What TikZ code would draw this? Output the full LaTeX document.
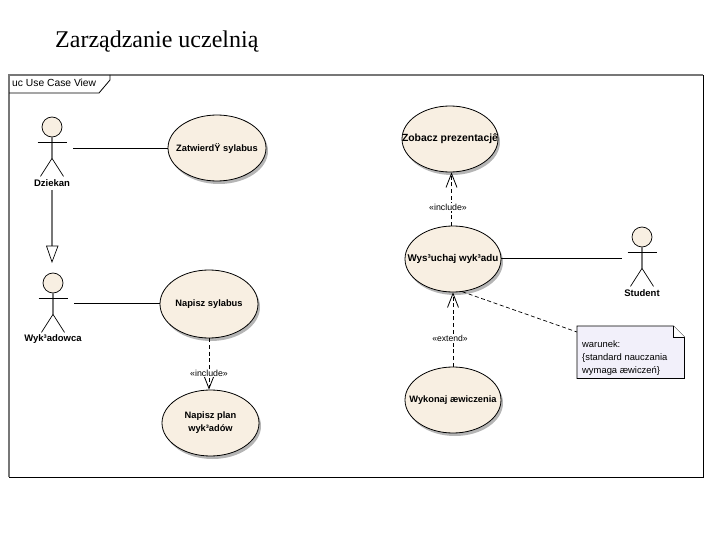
\documentclass[tikz,border=0pt]{standalone}
\usepackage{fontspec}
\setmainfont{Liberation Serif}
\setsansfont{Liberation Sans}
\usetikzlibrary{arrows.meta,shapes.geometric}
\definecolor{ucfill}{HTML}{F8EFE2}
\definecolor{notefill}{HTML}{F2F0FA}
\definecolor{framegray}{HTML}{777777}
\definecolor{shadowgray}{HTML}{B5B5B5}
\tikzset{
  usecase/.style={ellipse,draw=black,line width=0.8pt,fill=ucfill,inner sep=0pt},
  uctext/.style={inner sep=0pt,align=center,font=\sffamily\fontsize{9.3}{13}\selectfont\bfseries},
  ucshadow/.style={fill=shadowgray,draw=none},
  actorlabel/.style={font=\sffamily\fontsize{9.5}{10}\selectfont\bfseries,inner sep=0pt},
  stereo/.style={font=\sffamily\fontsize{8.8}{9}\selectfont,fill=white,inner sep=0.5pt},
  assoc/.style={line width=0.9pt},
  dep/.style={line width=0.8pt,dash pattern=on 4pt off 2.6pt,-{Straight Barb[length=14pt,width=11pt,line width=0.8pt]}},
  notelink/.style={line width=0.7pt,dash pattern=on 4pt off 2.6pt},
  limb/.style={line width=0.7pt},
  torso/.style={line width=1.2pt,draw=framegray},
}
\newcommand{\ucase}[6]{%
  \fill[ucshadow] (#2+2,-#3-3) ellipse [x radius=#4,y radius=#5];
  \node[usecase,minimum width=#4*2pt,minimum height=#5*2pt] (#1) at (#2,-#3) {};
  \node[uctext] (#1text) at (#2,-#3) {#6};
}
\newcommand{\actorfig}[3]{%
  \node[circle,draw=black,line width=0.7pt,fill=ucfill,minimum size=20pt,inner sep=0pt] (#1head) at (#2,-#3) {};
  \draw[torso] (#1head.south) -- ++(0,-21) coordinate (#1hip);
  \draw[limb] (#2-14.5,-#3-15) -- (#2+14.5,-#3-15);
  \draw[limb] (#1hip) -- ++(-11.5,-18);
  \draw[limb] (#1hip) -- ++(11.5,-18);
}
\begin{document}
\begin{tikzpicture}[x=1pt,y=1pt]
\useasboundingbox (0,0) rectangle (720,-540);
\node[anchor=base west,inner sep=0pt,font=\rmfamily\fontsize{24}{28}\selectfont] (title) at (55,-48) {Zarządzanie uczelnią};
% frame
\draw[framegray,line width=1.5pt] (703,-75) -- (9,-75) -- (9,-477);
\draw[black,line width=1pt] (9,-477) -- (703,-477) -- (703,-75);
\draw[black,line width=0.8pt] (9,-93) -- (99,-93) -- (110,-80) -- (110,-75);
\node[anchor=west,inner sep=0pt,font=\sffamily\fontsize{10.3}{12}\selectfont] (frametag) at (12,-83) {uc Use Case View};
% use cases
\ucase{zatw}{217}{148}{49}{33}{ZatwierdŸ sylabus}
\ucase{sylabus}{209}{304}{49}{34}{Napisz sylabus}
\ucase{plan}{210.5}{423}{48.5}{33}{Napisz plan\\wyk³adów}
\ucase{zobacz}{450}{139}{48}{33}{\fontsize{10.4}{12}\selectfont Zobacz prezentacjê}
\ucase{wys}{453}{259}{48}{33}{\fontsize{9.8}{12}\selectfont Wys³uchaj wyk³adu}
\ucase{wyk}{453}{400}{48}{33}{Wykonaj æwiczenia}
% actors
\actorfig{dz}{52}{127}
\actorfig{wd}{53}{283}
\actorfig{st}{642}{237}
\node[actorlabel] (dziekan) at (52,-183) {Dziekan};
\node[actorlabel] (wykladowca) at (53,-339) {Wyk³adowca};
\node[actorlabel] (student) at (642,-293) {Student};
% associations
\coordinate (dzr) at (73,-148);
\coordinate (wdr) at (74,-303);
\coordinate (stl) at (622,-258.5);
\draw[assoc] (dzr) -- (zatw.west |- dzr);
\draw[assoc] (wdr) -- (sylabus.west |- wdr);
\draw[assoc] (wys.east |- stl) -- (stl);
% generalisation
\coordinate (gtop) at (52,-190);
\coordinate (gbase) at (52,-246);
\coordinate (gtip) at (52,-262);
\draw[torso] (gtop) -- (gbase);
\draw[line width=0.7pt,fill=white] (46.5,-246) -- (58,-246) -- (gtip) -- cycle;
% dependencies
\draw[dep] (sylabus.south) -- node[stereo,pos=0.68] (l1) {«include»} (sylabus.south |- plan.north);
\coordinate (a) at (451.5,-226);
\draw[dep] (a) -- (a |- zobacz.south);
\node[stereo] (l2) at (448,-207) {«include»};
\draw[dep] (wyk.north) -- (wys.south);
\node[stereo,font=\sffamily\fontsize{8.6}{9}\selectfont] (l3) at (450,-338) {«extend»};
% note
\node[anchor=north west,inner sep=0pt,minimum width=107pt,minimum height=52pt] (note) at (577,-326) {};
\draw[line width=0.8pt,fill=notefill] (note.north west) -- ([xshift=-11pt]note.north east) -- ([yshift=-11pt]note.north east) -- (note.south east) -- (note.south west) -- cycle;
\draw[line width=0.7pt,fill=white] ([xshift=-11pt]note.north east) -- ([xshift=-11pt,yshift=-11pt]note.north east) -- ([yshift=-11pt]note.north east);
\node[anchor=north west,inner sep=0pt,align=left,font=\sffamily\fontsize{9.4}{13}\selectfont] (notetext) at (582,-340) {warunek:\\\{standard nauczania\\wymaga æwiczeń\}};
\coordinate (nr) at ([yshift=-6pt]note.north west);
\draw[notelink] (wys.286) -- (nr);
\end{tikzpicture}
\end{document}
